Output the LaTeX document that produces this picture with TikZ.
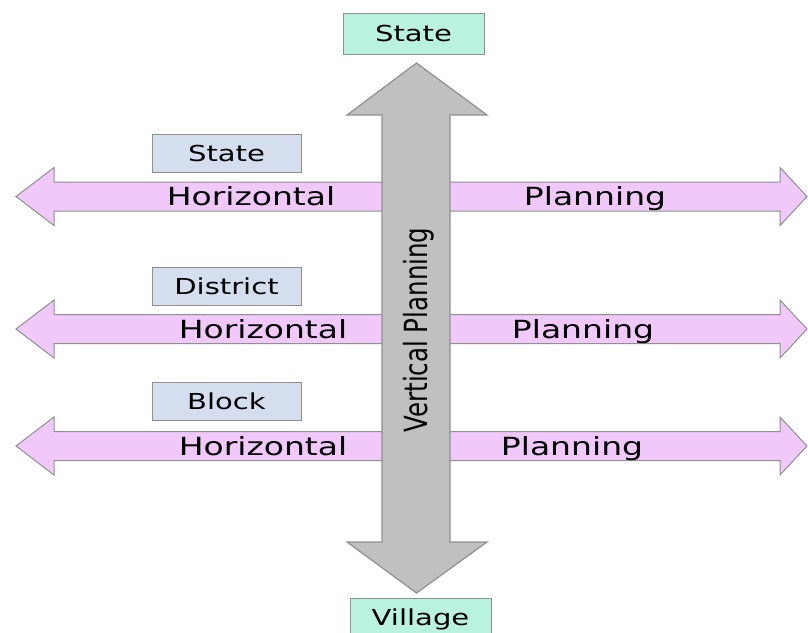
\documentclass[tikz,border=0pt]{standalone}
\usepackage{fontspec}
\usepackage{graphicx}
\setmainfont{DejaVu Sans}
\newfontfamily\widefont[FakeStretch=1.32]{DejaVu Sans}

\definecolor{pinkfill}{HTML}{F0C8FA}
\definecolor{arrowgray}{HTML}{C0C0C0}
\definecolor{edgegray}{HTML}{909090}
\definecolor{levelblue}{HTML}{D4DEEF}
\definecolor{endgreen}{HTML}{B9F2DE}

\tikzset{
  levelbox/.style={draw=edgegray, fill=levelblue, line width=1pt, inner sep=0pt,
    minimum width=149pt, minimum height=38pt, text=black,
    font=\widefont\fontsize{22}{26}\selectfont},
  endbox/.style={levelbox, fill=endgreen, minimum width=141pt, minimum height=41pt},
  flowtext/.style={anchor=base, text=black, font=\widefont\fontsize{25}{30}\selectfont},
}

\begin{document}
\begin{tikzpicture}[x=1pt, y=-1pt]
  \useasboundingbox (0,0) rectangle (808,632);

  % horizontal planning arrows, one per level
  \foreach \lvl/\yc/\lx/\rx in {state/196.5/251/595, district/329/263/583, block/446/263/572} {
    \draw[edgegray, fill=pinkfill, line width=1pt]
      (16,\yc) -- (54,\yc-29) -- (54,\yc-14.5) -- (780,\yc-14.5) -- (780,\yc-29)
      -- (807,\yc) -- (780,\yc+29) -- (780,\yc+14.5) -- (54,\yc+14.5) -- (54,\yc+29) -- cycle;
    \node[flowtext] (horiz-\lvl) at (\lx,\yc+9) {Horizontal};
    \node[flowtext] (plan-\lvl) at (\rx,\yc+9) {Planning};
  }

  % level labels
  \node[levelbox] (lv-state) at (226.5,153.5) {State};
  \node[levelbox] (lv-district) at (226.5,286) {District};
  \node[levelbox] (lv-block) at (226.5,401) {Block};

  % vertical planning arrow
  \draw[edgegray, fill=arrowgray, line width=1.2pt]
    (416.5,63) -- (487,115) -- (450,115) -- (450,542) -- (487,542) -- (416.5,593)
    -- (347,542) -- (382,542) -- (382,115) -- (347,115) -- cycle;
  \node[rotate=90, text=black, font=\fontsize{24.5}{28}\selectfont] (vert) at (418.5,330)
    {\scalebox{1}[1.3]{Vertical Planning}};

  % end points
  \node[endbox] (top) at (413.5,33.5) {State};
  \node[endbox] (bottom) at (420.5,619) {Village};
\end{tikzpicture}
\end{document}
